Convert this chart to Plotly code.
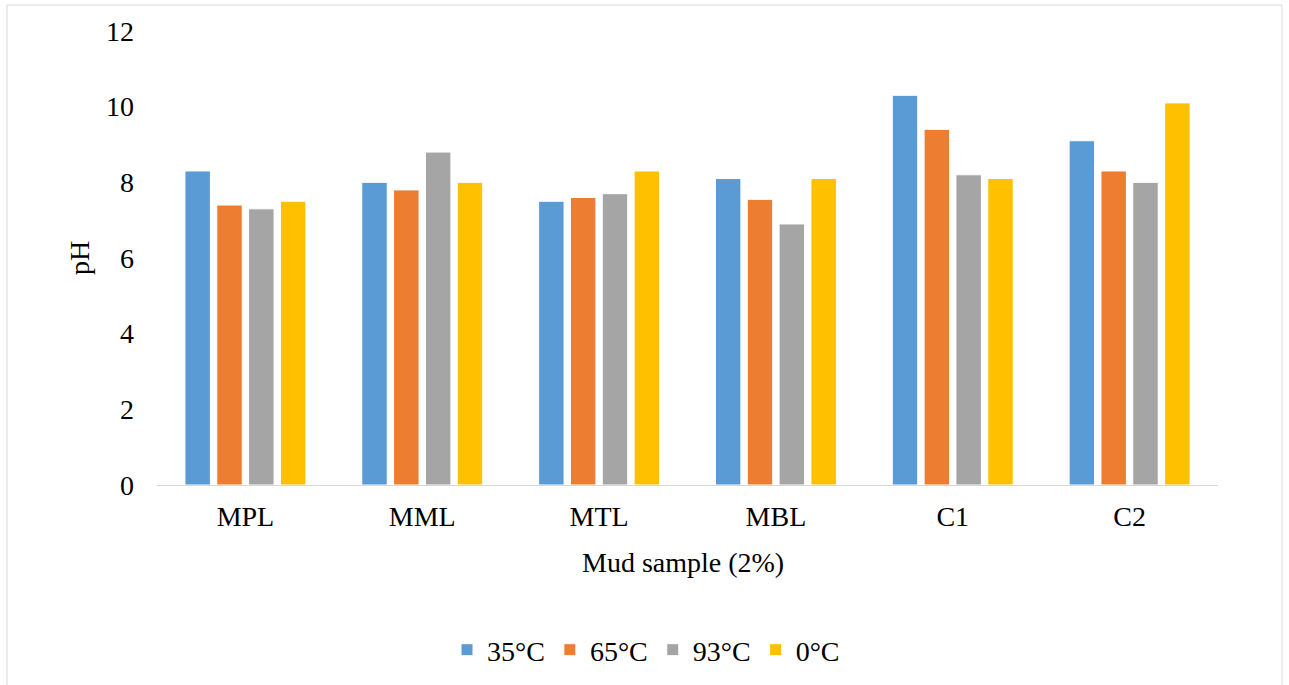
import plotly.graph_objects as go

categories = ["MPL", "MML", "MTL", "MBL", "C1", "C2"]
series_names = ["35°C", "65°C", "93°C", "0°C"]
ph_35 = [8.3, 8.0, 7.5, 8.1, 10.3, 9.1]
ph_65 = [7.4, 7.8, 7.6, 7.55, 9.4, 8.3]
ph_93 = [7.3, 8.8, 7.7, 6.9, 8.2, 8.0]
ph_0 = [7.5, 8.0, 8.3, 8.1, 8.1, 10.1]
colors = ["#5B9BD5", "#ED7D31", "#A5A5A5", "#FFC000"]
y_ticks = [0, 2, 4, 6, 8, 10, 12]

W, H = 1289, 685
L, R, T, B = 157, 71, 31, 200
pw, ph = W - L - R, H - T - B

font_family = "Liberation Serif, Times New Roman, serif"
FS = 28

fig = go.Figure()
for name, vals, c in zip(series_names, [ph_35, ph_65, ph_93, ph_0], colors):
    fig.add_trace(go.Bar(x=categories, y=vals, name=name,
                         marker=dict(color=c, line=dict(color="white", width=1))))

def px_x(x):
    return (x - L) / pw

def px_y(y):
    return (H - B - y) / ph

fig.update_layout(
    width=W, height=H,
    margin=dict(l=L, r=R, t=T, b=B, autoexpand=False),
    paper_bgcolor="white", plot_bgcolor="white",
    font=dict(family=font_family, size=FS, color="#000000"),
    barmode="group", bargap=0.28, bargroupgap=0.2,
    showlegend=True,
    legend=dict(orientation="h", x=px_x(646), xanchor="center",
                y=px_y(650), yanchor="middle",
                font=dict(size=FS, family=font_family), itemwidth=30,
                traceorder="normal"),
    xaxis=dict(showline=True, linecolor="#D9D9D9", linewidth=1,
               ticks="", showgrid=False, tickfont=dict(size=FS),
               ticklabelstandoff=6, fixedrange=True),
    yaxis=dict(range=[0, 12], tickvals=y_ticks, showgrid=False,
               zeroline=False, showline=False, ticks="",
               tickfont=dict(size=FS), ticklabelstandoff=22,
               title=dict(text="pH", font=dict(size=FS), standoff=8)),
    annotations=[dict(text="Mud sample (2%)", xref="paper", yref="paper",
                      x=px_x(683), y=px_y(562), xanchor="center", yanchor="middle",
                      showarrow=False, font=dict(size=FS, family=font_family))],
    shapes=[dict(type="rect", xref="paper", yref="paper",
                 x0=px_x(7), x1=px_x(1282), y0=px_y(690), y1=px_y(5),
                 line=dict(color="#D9D9D9", width=1), layer="below")],
)

fig.write_html("out.html")
